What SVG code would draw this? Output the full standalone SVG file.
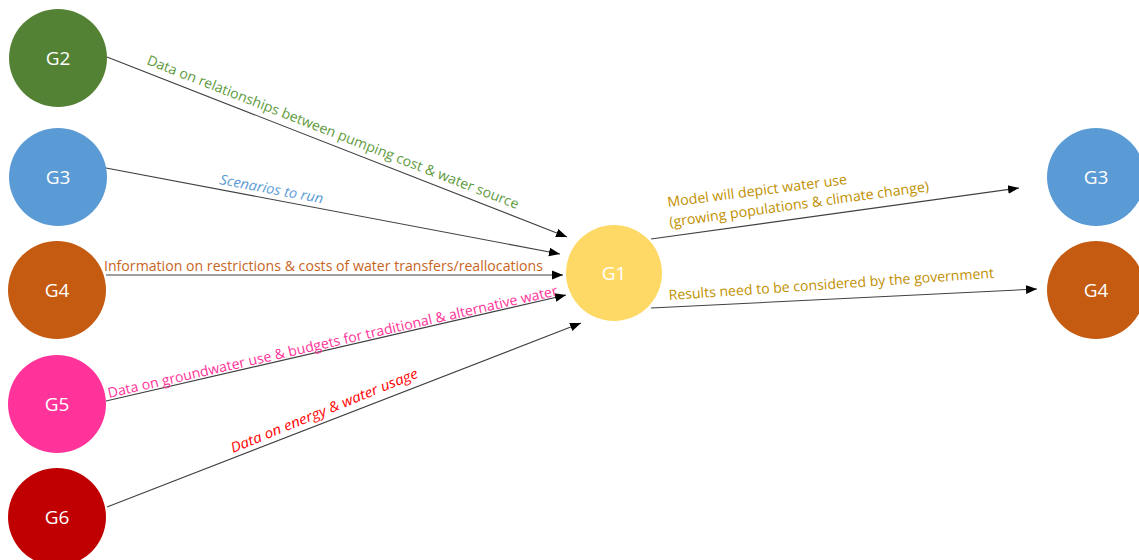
<svg xmlns="http://www.w3.org/2000/svg" width="1139" height="560" viewBox="0 0 1139 560">
<style>
.node text{font-family:"Open Sans","Liberation Sans",sans-serif;font-size:19px;fill:#ffffff;text-anchor:middle}
.edge{stroke:#404040;stroke-width:1.1;fill:none}
.lbl{font-family:"Open Sans","Liberation Sans",sans-serif;font-size:14px}
</style>
<defs>
<marker id="arr" viewBox="0 0 10 10" refX="10" refY="5" markerWidth="11" markerHeight="11" markerUnits="userSpaceOnUse" orient="auto">
<path d="M0,1 L10,5 L0,9 z" fill="#000000"/>
</marker>
</defs>
<rect width="1139" height="560" fill="#ffffff"/>
<g id="connectors">
<line class="edge" x1="107" y1="57" x2="567" y2="237" marker-end="url(#arr)"/>
<line class="edge" x1="106" y1="168" x2="560" y2="254" marker-end="url(#arr)"/>
<line class="edge" x1="106" y1="275" x2="563" y2="275" marker-end="url(#arr)"/>
<line class="edge" x1="106" y1="401" x2="566" y2="295" marker-end="url(#arr)"/>
<line class="edge" x1="107" y1="507" x2="581" y2="323" marker-end="url(#arr)"/>
<line class="edge" x1="651" y1="239" x2="1019" y2="188" marker-end="url(#arr)"/>
<line class="edge" x1="651" y1="308" x2="1037" y2="289" marker-end="url(#arr)"/>
<text class="lbl" fill="#5E9A3C" transform="translate(146,64) rotate(21.4)" textLength="398" lengthAdjust="spacingAndGlyphs">Data on relationships between pumping cost &amp; water source</text>
<text class="lbl" fill="#5B9BD5" font-style="italic" transform="translate(219,184) rotate(10.7)" textLength="105" lengthAdjust="spacingAndGlyphs">Scenarios to run</text>
<text class="lbl" fill="#C8641E" x="104" y="271" textLength="439" lengthAdjust="spacingAndGlyphs">Information on restrictions &amp; costs of water transfers/reallocations</text>
<text class="lbl" fill="#FF3399" transform="translate(109,398) rotate(-12.9)" textLength="461" lengthAdjust="spacingAndGlyphs">Data on groundwater use &amp; budgets for traditional &amp; alternative water</text>
<text class="lbl" fill="#FF0000" font-style="italic" transform="translate(233,453) rotate(-22.2)" textLength="201" lengthAdjust="spacingAndGlyphs">Data on energy &amp; water usage</text>
<text class="lbl" fill="#BF9000" transform="translate(668,207) rotate(-7.3)" textLength="181" lengthAdjust="spacingAndGlyphs">Model will depict water use</text>
<text class="lbl" fill="#BF9000" transform="translate(670,227) rotate(-7.9)" textLength="262" lengthAdjust="spacingAndGlyphs">(growing populations &amp; climate change)</text>
<text class="lbl" fill="#BF9000" transform="translate(669,300) rotate(-3.9)" textLength="326" lengthAdjust="spacingAndGlyphs">Results need to be considered by the government</text>
</g>
<g id="G2" class="node"><circle cx="58" cy="58" r="49" fill="#548235"/><text x="58" y="65">G2</text></g>
<g id="G3-left" class="node"><circle cx="58" cy="177" r="49" fill="#5B9BD5"/><text x="58" y="184">G3</text></g>
<g id="G4-left" class="node"><circle cx="57" cy="290" r="49" fill="#C55A11"/><text x="57" y="297">G4</text></g>
<g id="G5" class="node"><circle cx="57" cy="404" r="49" fill="#FF3399"/><text x="57" y="411">G5</text></g>
<g id="G6" class="node"><circle cx="57" cy="517" r="49" fill="#C00000"/><text x="57" y="524">G6</text></g>
<g id="G1" class="node"><circle cx="614" cy="273" r="48" fill="#FFD966"/><text x="614" y="280">G1</text></g>
<g id="G3-right" class="node"><circle cx="1096" cy="177" r="49" fill="#5B9BD5"/><text x="1096" y="184">G3</text></g>
<g id="G4-right" class="node"><circle cx="1096" cy="290" r="49" fill="#C55A11"/><text x="1096" y="297">G4</text></g>
</svg>
